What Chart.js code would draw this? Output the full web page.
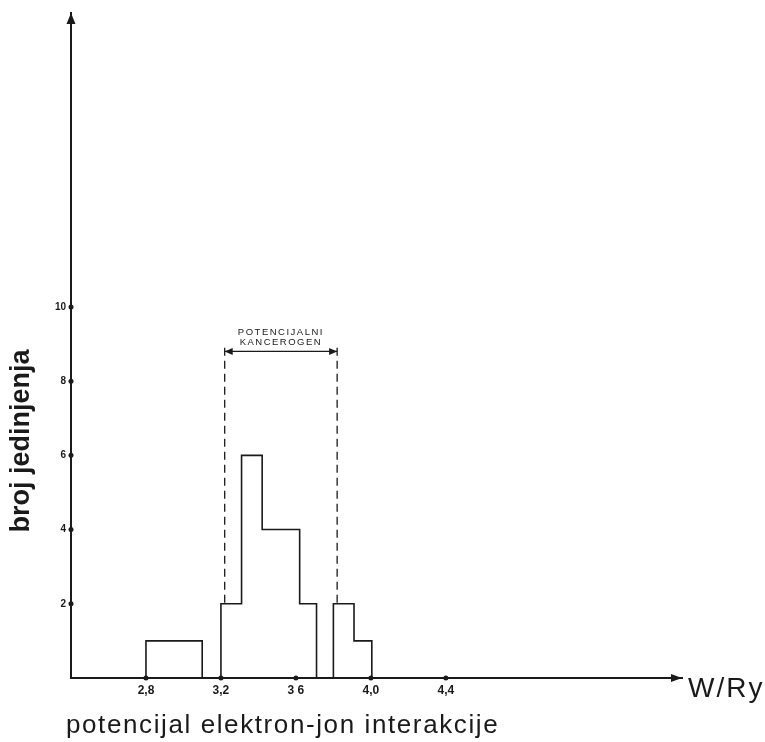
<!DOCTYPE html>
<html lang="hr">
<head>
<meta charset="utf-8">
<title>broj jedinjenja - potencijal elektron-jon interakcije</title>
<script src="https://cdn.jsdelivr.net/npm/chart.js@4/dist/chart.umd.min.js"></script>
<style>
    html, body { margin: 0; padding: 0; background: #fff; }
    #wrap { width: 765px; height: 742px; }
</style>
</head>
<body>
<div id="wrap"><canvas id="chart" width="765" height="742"></canvas></div>
<script>
// Rubovi intervala histograma (W/Ry) i broj jedinjenja u svakom intervalu
const binEdges = [2.8, 3.1, 3.2, 3.31, 3.42, 3.62, 3.71, 3.8, 3.91, 4.005];
const binCounts = [1, 0, 2, 6, 4, 2, 0, 2, 1, 0];

// Oznake na osama
const xTicks = [2.8, 3.2, 3.6, 4.0, 4.4];
const xTickLabels = ['2,8', '3,2', '3 6', '4,0', '4,4'];
const yTicks = [2, 4, 6, 8, 10];

// Zona "potencijalni kancerogen"
const zoneBounds = [3.22, 3.82];
const zoneTop = 8.9;
const zoneBottom = 2;
const zoneArrowLevel = 8.8;
const zoneLabel = ['POTENCIJALNI', 'KANCEROGEN'];

const INK = '#1a1a1a';

window.HistogramView = {
    chart: null,

    init() {
        const ctx = document.getElementById('chart');

        // Stepenasta kontura histograma
        const histPoints = [{ x: binEdges[0], y: 0 }];
        binEdges.forEach((edge, i) => histPoints.push({ x: edge, y: binCounts[i] }));

        const dashed = (x) => ({
            data: [{ x: x, y: zoneTop }, { x: x, y: zoneBottom }],
            showLine: true,
            borderColor: INK,
            borderWidth: 1.3,
            borderDash: [8, 5],
            pointRadius: 0
        });

        this.chart = new Chart(ctx, {
            type: 'scatter',
            data: {
                datasets: [
                    {
                        data: histPoints,
                        showLine: true,
                        stepped: 'before',
                        borderColor: INK,
                        borderWidth: 1.6,
                        pointRadius: 0
                    },
                    dashed(zoneBounds[0]),
                    dashed(zoneBounds[1]),
                    {
                        data: [{ x: zoneBounds[0], y: zoneArrowLevel }, { x: zoneBounds[1], y: zoneArrowLevel }],
                        showLine: true,
                        borderColor: INK,
                        borderWidth: 1.3,
                        pointRadius: 0
                    }
                ]
            },
            options: {
                responsive: false,
                animation: false,
                layout: { padding: { top: 13, right: 83, left: 0, bottom: 0 } },
                plugins: {
                    legend: { display: false },
                    tooltip: { enabled: false }
                },
                scales: {
                    x: {
                        type: 'linear',
                        min: 2.4,
                        max: 5.66,
                        afterBuildTicks: (s) => { s.ticks = xTicks.map(v => ({ value: v })); },
                        afterFit: (s) => { s.height = 64; },
                        grid: { display: false, drawTicks: false },
                        border: { display: true, color: INK, width: 2 },
                        ticks: {
                            autoSkip: false,
                            maxRotation: 0,
                            padding: 5,
                            color: INK,
                            font: { family: 'Liberation Sans', size: 12, weight: 'bold' },
                            callback: (v, i) => xTickLabels[i]
                        }
                    },
                    y: {
                        type: 'linear',
                        min: 0,
                        max: 17.92,
                        afterBuildTicks: (s) => { s.ticks = yTicks.map(v => ({ value: v })); },
                        afterFit: (s) => { s.width = 71; },
                        grid: { display: false, drawTicks: false },
                        border: { display: true, color: INK, width: 2 },
                        ticks: {
                            autoSkip: false,
                            padding: 5,
                            color: INK,
                            font: { family: 'Liberation Sans', size: 10, weight: 'bold' },
                            callback: (v) => String(v)
                        }
                    }
                }
            },
            plugins: [this.decorations]
        });
    },

    // Strelice, tačke na osama, natpisi
    decorations: {
        id: 'decorations',
        afterDraw(chart) {
            const { ctx, chartArea, scales } = chart;
            const xs = scales.x, ys = scales.y;
            const x0 = chartArea.left, y0 = chartArea.bottom;

            ctx.save();
            ctx.fillStyle = INK;
            ctx.strokeStyle = INK;

            // Tačke na podeocima
            xTicks.forEach(v => {
                ctx.beginPath();
                ctx.arc(xs.getPixelForValue(v), y0, 2.5, 0, Math.PI * 2);
                ctx.fill();
            });
            yTicks.forEach(v => {
                ctx.beginPath();
                ctx.arc(x0, ys.getPixelForValue(v), 2.5, 0, Math.PI * 2);
                ctx.fill();
            });

            // Strelice na krajevima osa
            ctx.beginPath();
            ctx.moveTo(x0, chartArea.top);
            ctx.lineTo(x0 - 4.5, chartArea.top + 11);
            ctx.lineTo(x0 + 4.5, chartArea.top + 11);
            ctx.closePath();
            ctx.fill();

            ctx.beginPath();
            ctx.moveTo(chartArea.right, y0);
            ctx.lineTo(chartArea.right - 11, y0 - 4);
            ctx.lineTo(chartArea.right - 11, y0 + 4);
            ctx.closePath();
            ctx.fill();

            // Strelice zone
            const ay = ys.getPixelForValue(zoneArrowLevel);
            const ax1 = xs.getPixelForValue(zoneBounds[0]);
            const ax2 = xs.getPixelForValue(zoneBounds[1]);
            ctx.beginPath();
            ctx.moveTo(ax1, ay);
            ctx.lineTo(ax1 + 8, ay - 3.5);
            ctx.lineTo(ax1 + 8, ay + 3.5);
            ctx.closePath();
            ctx.fill();
            ctx.beginPath();
            ctx.moveTo(ax2, ay);
            ctx.lineTo(ax2 - 8, ay - 3.5);
            ctx.lineTo(ax2 - 8, ay + 3.5);
            ctx.closePath();
            ctx.fill();

            // Natpis zone
            ctx.textAlign = 'center';
            ctx.textBaseline = 'middle';
            ctx.font = '9.5px "Liberation Sans"';
            ctx.letterSpacing = '1.5px';
            const cx = (ax1 + ax2) / 2;
            ctx.fillText(zoneLabel[0], cx, ay - 19);
            ctx.fillText(zoneLabel[1], cx, ay - 9);

            // Naslovi osa
            ctx.textAlign = 'left';
            ctx.textBaseline = 'alphabetic';
            ctx.font = '28px "Liberation Sans"';
            ctx.letterSpacing = '2px';
            ctx.fillText('W/Ry', 688, 697);

            ctx.font = '26px "Liberation Sans"';
            ctx.letterSpacing = '1.6px';
            ctx.fillText('potencijal elektron-jon interakcije', 66, 733);

            ctx.letterSpacing = '0px';
            ctx.translate(22, 441);
            ctx.rotate(-Math.PI / 2);
            ctx.textAlign = 'center';
            ctx.textBaseline = 'middle';
            ctx.font = 'bold 27px "Liberation Sans"';
            ctx.fillText('broj jedinjenja', 0, 0);

            ctx.restore();
        }
    }
};

if (document.readyState === 'loading') {
    document.addEventListener('DOMContentLoaded', () => window.HistogramView.init());
} else {
    window.HistogramView.init();
}
</script>
</body>
</html>
